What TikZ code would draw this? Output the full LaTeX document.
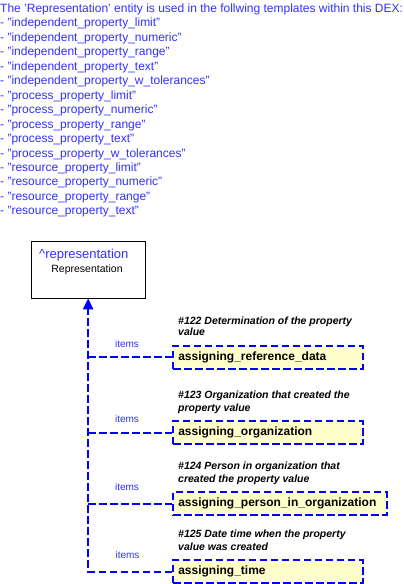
\documentclass[tikz,border=0pt]{standalone}
\usepackage{fontspec}
\setmainfont{Liberation Sans}
\usetikzlibrary{arrows.meta}
\definecolor{dexblue}{RGB}{0,0,255}
\definecolor{txtblue}{RGB}{48,48,255}
\definecolor{boxfill}{RGB}{255,255,204}
\tikzset{
  hdr/.style={anchor=base west,inner sep=0pt,text=txtblue,font=\fontsize{12}{14}\selectfont},
  conn/.style={draw=dexblue,line width=2pt,dash pattern=on 7.5pt off 3.5pt},
  tplbox/.style={draw=dexblue,line width=2pt,dash pattern=on 7.5pt off 3.5pt,fill=boxfill,
    anchor=north west,minimum height=23.3pt,inner xsep=5pt,inner ysep=0pt,align=left,
    font=\fontsize{12}{14}\selectfont\bfseries},
  desc/.style={anchor=base west,inner sep=0pt,font=\fontsize{10.5}{13}\selectfont\bfseries\itshape},
  itemlbl/.style={anchor=base,inner sep=0pt,text=txtblue,font=\fontsize{10}{12}\selectfont},
}
\begin{document}
\begin{tikzpicture}[x=1pt,y=-1pt]
\useasboundingbox (0,0) rectangle (404,584);
% header text
\node[hdr] (t0) at (0,12.5) {The 'Representation' entity is used in the follwing templates within this DEX:};
\foreach \txt [count=\i] in {independent\_property\_limit,independent\_property\_numeric,independent\_property\_range,independent\_property\_text,independent\_property\_w\_tolerances,process\_property\_limit,process\_property\_numeric,process\_property\_range,process\_property\_text,process\_property\_w\_tolerances,resource\_property\_limit,resource\_property\_numeric,resource\_property\_range,resource\_property\_text}
  \node[hdr] (t\i) at (0,12.5+14.45*\i) {- "\txt"};
% representation box
\node[draw=black,line width=0.8pt,fill=white,minimum width=113.5pt,minimum height=56.5pt,inner sep=0pt,anchor=north west] (rep) at (31,241) {};
\node[anchor=base west,inner sep=0pt,text=txtblue,font=\fontsize{13}{15}\selectfont] (repname) at (39,258.5) {\textasciicircum representation};
\node[anchor=base,inner sep=0pt,font=\fontsize{10.5}{12}\selectfont] (reptype) at (87,272) {Representation};
% template boxes
\node[tplbox,text width=179.4pt] (b1) at (172.3,344.7) {assigning\_reference\_data};
\node[tplbox,text width=179.4pt] (b2) at (172.3,420) {assigning\_organization};
\node[tplbox,text width=203.4pt] (b3) at (172.3,491) {assigning\_person\_in\_organization};
\node[tplbox,text width=179.4pt] (b4) at (172.3,559) {assigning\_time};
% descriptions
\node[desc] (d1a) at (178,324) {\#122 Determination of the property};
\node[desc] (d1b) at (178,335.7) {value};
\node[desc] (d2a) at (178,398.3) {\#123 Organization that created the};
\node[desc] (d2b) at (178,411.7) {property value};
\node[desc] (d3a) at (178,469.7) {\#124 Person in organization that};
\node[desc] (d3b) at (178,482.3) {created the property value};
\node[desc] (d4a) at (178,537.3) {\#125 Date time when the property};
\node[desc] (d4b) at (178,550.7) {value was created};
% connectors
\coordinate (c4) at (rep.south |- b4.west);
\draw[conn,-{Triangle[length=11pt,width=10pt,fill=dexblue]}] (b4.west) -- (c4) -- (rep.south);
\draw[conn] (rep.south |- b1.west) -- (b1.west);
\draw[conn] (rep.south |- b2.west) -- (b2.west);
\draw[conn] (rep.south |- b3.west) -- (b3.west);
% labels
\node[itemlbl] (i1) at (127,347.8) {items};
\node[itemlbl] (i2) at (127,422.8) {items};
\node[itemlbl] (i3) at (127,490.8) {items};
\node[itemlbl] (i4) at (127.5,558.5) {items};
\end{tikzpicture}
\end{document}
